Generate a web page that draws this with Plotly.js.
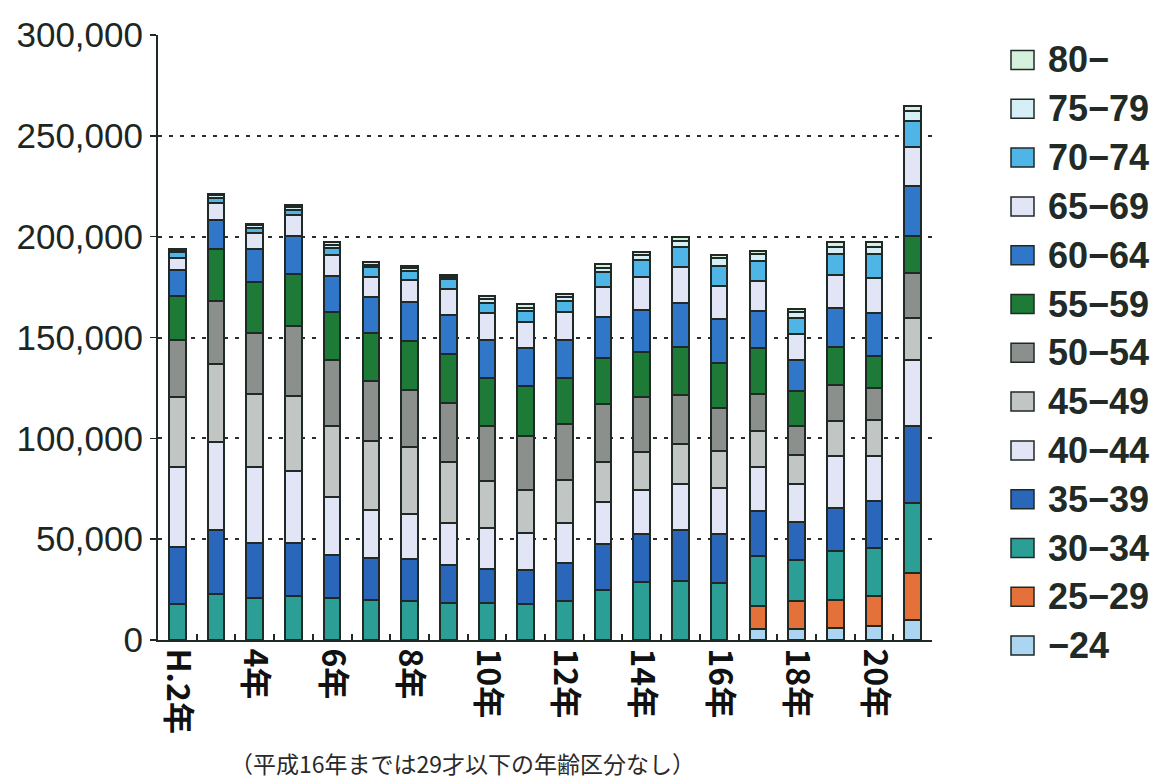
<!DOCTYPE html>
<html>
<head>
<meta charset="utf-8">
<script src="https://cdn.plot.ly/plotly-3.0.1.min.js"></script>
<style>
  html, body { margin: 0; padding: 0; background: #ffffff; }
  #chart { width: 1158px; height: 782px; }
</style>
</head>
<body>
<div id="chart"></div>
<script>
// Fiscal years (Heisei era), one stacked bar per year
const years = ['H.2', 'H.3', 'H.4', 'H.5', 'H.6', 'H.7', 'H.8', 'H.9', 'H.10', 'H.11',
               'H.12', 'H.13', 'H.14', 'H.15', 'H.16', 'H.17', 'H.18', 'H.19', 'H.20', 'H.21'];
const yearLabels = ['H.2年', '', '4年', '', '6年', '', '8年', '', '10年', '',
                    '12年', '', '14年', '', '16年', '', '18年', '', '20年', ''];

// Age bands, bottom of the stack first
const ageBands = ['−24', '25−29', '30−34', '35−39', '40−44', '45−49', '50−54',
                  '55−59', '60−64', '65−69', '70−74', '75−79', '80−'];
const bandColors = ['#acd5f2', '#e4703a', '#2b9f95', '#2a67bb', '#e1e5f5', '#c1c5c3', '#8b908d',
                    '#1d7b37', '#3077c9', '#e1e5f5', '#4fb4e6', '#d6eff6', '#d5f0dd'];

// Headcount per age band (no split below 30 until H.16)
const age_24    = [null, null, null, null, null, null, null, null, null, null, null, null, null, null, null,
                   5400, 5400, 6200, 7100, 10100];
const age_25_29 = [null, null, null, null, null, null, null, null, null, null, null, null, null, null, null,
                   11500, 13900, 13600, 14900, 23100];
const age_30_34 = [17700, 22900, 21000, 21800, 21000, 19800, 19300, 18500, 18500, 17700,
                   19300, 24700, 28700, 29200, 28400, 24900, 20200, 24100, 23600, 34700];
const age_35_39 = [28400, 31700, 27000, 26200, 21300, 20800, 21000, 18900, 16700, 17200,
                   18900, 23000, 23900, 25400, 24200, 22300, 19200, 21700, 23200, 38100];
const age_40_44 = [39600, 43400, 38000, 35800, 28700, 23800, 22000, 20800, 20200, 18000,
                   20000, 20800, 22000, 22600, 23000, 21600, 18500, 25400, 22300, 32800];
const age_45_49 = [34800, 38900, 35800, 37200, 35200, 34400, 33300, 30000, 23300, 21700,
                   21000, 19700, 18500, 20000, 18000, 17700, 14700, 17700, 17800, 20700];
const age_50_54 = [28300, 31300, 30600, 34900, 32500, 29500, 28600, 29500, 27500, 26700,
                   27800, 29000, 27400, 24100, 21600, 18700, 14300, 17700, 16100, 22600];
const age_55_59 = [21700, 25600, 25100, 25700, 24100, 23800, 24100, 24100, 23800, 24600,
                   23000, 22600, 22300, 23800, 22100, 22600, 17200, 18700, 16000, 18100];
const age_60_64 = [13200, 14700, 16500, 18800, 17500, 18000, 19400, 19300, 18800, 18800,
                   18800, 20500, 20800, 22200, 21800, 18400, 15600, 19600, 21000, 24900];
const age_65_69 = [5900, 8200, 8000, 10100, 10600, 9900, 10600, 13100, 13500, 13100,
                   13600, 14700, 16400, 17500, 16500, 15100, 12600, 16300, 17700, 19200];
const age_70_74 = [2700, 2300, 2300, 2500, 3300, 4900, 4900, 4600, 5000, 5300,
                   5600, 7700, 8200, 10000, 10100, 9800, 8200, 10500, 11500, 13200];
const age_75_79 = [1100, 1500, 1300, 1600, 1600, 1300, 1300, 1300, 1700, 1700,
                   2000, 1900, 2700, 3000, 3800, 3500, 2800, 3500, 3500, 4800];
const age_80    = [600, 500, 700, 900, 1400, 1100, 900, 1000, 1600, 1600,
                   1800, 1900, 1700, 2200, 1300, 1300, 1500, 2600, 2800, 2700];

const bandValues = [age_24, age_25_29, age_30_34, age_35_39, age_40_44, age_45_49, age_50_54,
                    age_55_59, age_60_64, age_65_69, age_70_74, age_75_79, age_80];

const yTicks = [0, 50000, 100000, 150000, 200000, 250000, 300000];

const ink = '#1f2a26';

// Plot area geometry (pixels) used to place the key beside the plot
const W = 1158, H = 782;
const M = { l: 158, r: 226, t: 35, b: 142 };
const plotW = W - M.l - M.r, plotH = H - M.t - M.b;
const px2x = p => (p - M.l) / plotW;
const px2y = p => (H - M.b - p) / plotH;

const traces = ageBands.map((band, i) => ({
  type: 'bar',
  name: band,
  x: years,
  y: bandValues[i],
  marker: { color: bandColors[i], line: { color: ink, width: 2 } },
  hoverinfo: 'x+y+name'
}));

// Key: top row is the oldest band, one row per band
const keyTop = 60, keyStep = 48.8, boxLeft = 1011, boxSize = 21, textLeft = 1046;
const keyShapes = [], keyLabels = [];
ageBands.slice().reverse().forEach((band, k) => {
  const i = ageBands.length - 1 - k;
  const cy = keyTop + k * keyStep;
  keyShapes.push({
    type: 'rect', xref: 'paper', yref: 'paper',
    x0: px2x(boxLeft), x1: px2x(boxLeft + boxSize + 2),
    y0: px2y(cy + boxSize / 2 - 1), y1: px2y(cy - boxSize / 2 + 1),
    fillcolor: bandColors[i], line: { color: ink, width: 1.5 }
  });
  keyLabels.push({
    xref: 'paper', yref: 'paper',
    x: px2x(textLeft), y: px2y(cy),
    xanchor: 'left', yanchor: 'middle',
    text: band, showarrow: false,
    font: { family: 'Liberation Sans, Arial, sans-serif', size: 36, color: '#222a26', weight: 'bold' }
  });
});

const layout = {
  width: W,
  height: H,
  margin: M,
  paper_bgcolor: '#ffffff',
  plot_bgcolor: '#ffffff',
  barmode: 'stack',
  bargap: 0.57,
  showlegend: false,
  xaxis: {
    type: 'category',
    range: [-0.5, 19.5],
    tickmode: 'array',
    tickvals: years,
    ticktext: yearLabels,
    tickangle: 90,
    tickson: 'boundaries',
    ticks: 'inside',
    ticklen: 6,
    tickwidth: 2,
    tickcolor: ink,
    showline: true,
    linecolor: ink,
    linewidth: 2,
    showgrid: false,
    zeroline: false,
    tickfont: { family: 'Noto Sans CJK JP, sans-serif', size: 32, color: '#111', weight: 'bold' }
  },
  yaxis: {
    range: [0, 300000],
    tickmode: 'array',
    tickvals: yTicks,
    ticktext: yTicks.map(v => v.toLocaleString('en-US')),
    ticks: 'outside',
    ticklen: 6,
    tickwidth: 1.5,
    tickcolor: ink,
    showline: true,
    linecolor: ink,
    linewidth: 2,
    showgrid: true,
    gridcolor: '#2a2f2d',
    gridwidth: 2,
    griddash: '4px,7px',
    zeroline: false,
    tickfont: { family: 'Liberation Sans, Arial, sans-serif', size: 35, color: '#1c2622' }
  },
  shapes: keyShapes,
  annotations: keyLabels.concat([{
    xref: 'paper', yref: 'paper',
    x: px2x(462), y: px2y(763), xanchor: 'center', yanchor: 'middle',
    text: '（平成16年までは29才以下の年齢区分なし）',
    showarrow: false,
    font: { family: 'Noto Sans CJK JP, sans-serif', size: 23, color: '#2a2a2a' }
  }])
};

Plotly.newPlot('chart', traces, layout, { displayModeBar: false, staticPlot: true });
</script>
</body>
</html>
